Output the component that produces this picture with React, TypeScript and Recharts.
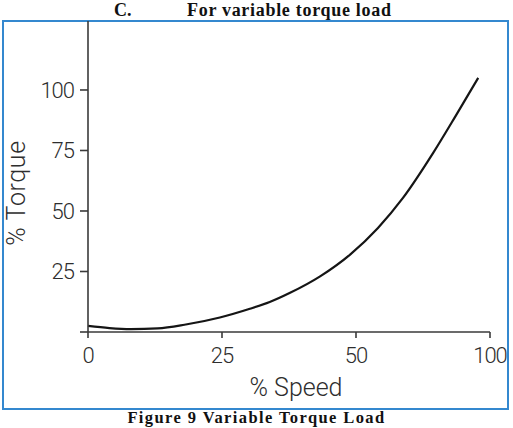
import React from "react";
import { LineChart, Line, XAxis, YAxis } from "recharts";

const speedPos = [0, 4, 8, 13, 18, 24.6, 30.2, 33.9, 37.7, 43.3, 48.9, 54.1, 58.8, 64.4, 68.6, 72.8];
const torque = [2.5, 1.6, 1.2, 1.5, 3.0, 6.0, 9.6, 12.4, 16.2, 23.0, 32, 43, 55.5, 74, 89.3, 105];
const xTickValues = [0, 25, 50, 75];
const xTickLabels = ["0", "25", "50", "100"];
const yTickValues = [0, 25, 50, 75, 100];
const yTickLabels = ["", "25", "50", "75", "100"];

const data = speedPos.map((x, i) => ({ x, torque: torque[i] }));

const sansFont = "Roboto, 'Liberation Sans', Arial, sans-serif";
const serifFont = "'Liberation Serif', 'Times New Roman', serif";
const axisColor = "#3a3a3a";

export default function App() {
  return (
    <div style={{ position: "absolute", left: 0, top: 0, width: 513, height: 428, background: "#fff", overflow: "hidden" }}>
      <div
        style={{
          position: "absolute",
          left: 114,
          top: 0,
          fontFamily: serifFont,
          fontWeight: "bold",
          fontSize: 18,
          lineHeight: "20px",
          color: "#111",
          whiteSpace: "pre",
        }}
      >
        C.
      </div>
      <div
        style={{
          position: "absolute",
          left: 187,
          top: 0,
          fontFamily: serifFont,
          fontWeight: "bold",
          fontSize: 18,
          letterSpacing: 0.7,
          lineHeight: "20px",
          color: "#111",
          whiteSpace: "pre",
        }}
      >
        For variable torque load
      </div>
      <div
        style={{
          position: "absolute",
          left: 2,
          top: 20,
          width: 507,
          height: 390,
          boxSizing: "border-box",
          border: "2px solid #3488cf",
        }}
      />
      <div style={{ position: "absolute", left: 0, top: 0 }}>
        <LineChart
          width={513}
          height={428}
          data={data}
          margin={{ top: 21, right: 23, bottom: 56, left: 8 }}
        >
          <XAxis
            type="number"
            dataKey="x"
            domain={[0, 75]}
            ticks={xTickValues}
            tickFormatter={(v: number) => xTickLabels[xTickValues.indexOf(v)] ?? ""}
            height={40}
            tickSize={6}
            tickMargin={9}
            interval={0}
            axisLine={{ stroke: axisColor, strokeWidth: 1.6 }}
            tickLine={{ stroke: axisColor, strokeWidth: 1.6 }}
            tick={{ fill: "#2e2e2e", fontSize: 22, fontFamily: sansFont, fontWeight: 300, letterSpacing: -1 }}
          />
          <YAxis
            type="number"
            domain={[0, 128.5]}
            ticks={yTickValues}
            tickFormatter={(v: number) => yTickLabels[yTickValues.indexOf(v)] ?? ""}
            width={80}
            tickSize={8}
            tickMargin={6}
            interval={0}
            axisLine={{ stroke: axisColor, strokeWidth: 1.6 }}
            tickLine={{ stroke: axisColor, strokeWidth: 1.6 }}
            tick={{ fill: "#2e2e2e", fontSize: 22, fontFamily: sansFont, fontWeight: 300, letterSpacing: -1 }}
          />
          <Line
            type="monotone"
            dataKey="torque"
            stroke="#151515"
            strokeWidth={2.2}
            dot={false}
            isAnimationActive={false}
          />
        </LineChart>
      </div>
      <div
        style={{
          position: "absolute",
          left: 196,
          top: 373,
          width: 200,
          textAlign: "center",
          fontFamily: sansFont,
          fontWeight: 300,
          fontSize: 25,
          lineHeight: "30px",
          color: "#2e2e2e",
        }}
      >
        % Speed
      </div>
      <div
        style={{
          position: "absolute",
          left: 17,
          top: 193,
          width: 200,
          marginLeft: -100,
          marginTop: -15,
          textAlign: "center",
          transform: "rotate(-90deg)",
          fontFamily: sansFont,
          fontWeight: 300,
          fontSize: 25,
          letterSpacing: 0.6,
          lineHeight: "30px",
          color: "#2e2e2e",
        }}
      >
        % Torque
      </div>
      <div
        style={{
          position: "absolute",
          left: 0,
          top: 409,
          width: 513,
          textAlign: "center",
          fontFamily: serifFont,
          fontWeight: "bold",
          fontSize: 16.5,
          letterSpacing: 1.4,
          lineHeight: "18px",
          color: "#111",
          whiteSpace: "pre",
        }}
      >
        Figure 9 Variable Torque Load
      </div>
    </div>
  );
}
